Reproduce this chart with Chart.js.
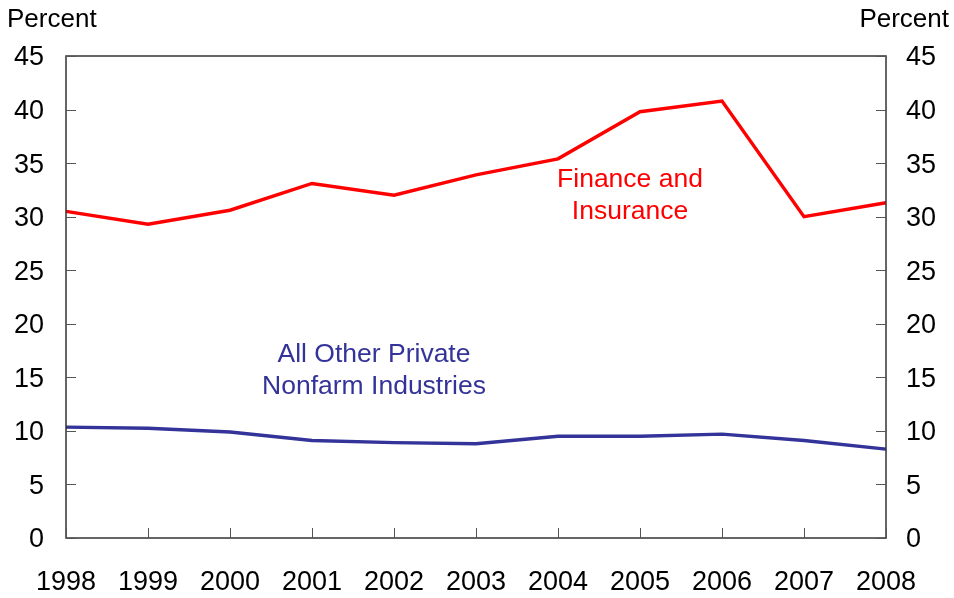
<!DOCTYPE html>
<html>
<head>
<meta charset="utf-8">
<script src="https://cdn.jsdelivr.net/npm/chart.js@4/dist/chart.umd.min.js"></script>
<style>
  html, body { margin: 0; padding: 0; background: #fff; }
  #wrap { width: 954px; height: 598px; position: relative; }
</style>
</head>
<body>
<div id="wrap"><canvas id="chart" width="954" height="598"></canvas></div>
<script>
// data
const years = ["1998", "1999", "2000", "2001", "2002", "2003", "2004", "2005", "2006", "2007", "2008"];
const financeValues = [30.5, 29.3, 30.6, 33.1, 32.0, 33.9, 35.4, 39.8, 40.8, 30.0, 31.3];
const otherValues = [10.35, 10.25, 9.9, 9.1, 8.9, 8.8, 9.5, 9.5, 9.7, 9.1, 8.3];
const percentTicks = [0, 5, 10, 15, 20, 25, 30, 35, 40, 45];

const FONT = "Arial, 'Liberation Sans', sans-serif";

// inward ticks, box, labels
const extras = {
  id: "extras",
  afterDraw(chart) {
    const ctx = chart.ctx;
    const a = chart.chartArea;
    const x = chart.scales.x;
    const y = chart.scales.y;
    ctx.save();
    ctx.strokeStyle = "#333";
    ctx.lineWidth = 1.5;
    ctx.strokeRect(a.left, a.top, a.right - a.left, a.bottom - a.top);

    ctx.lineWidth = 1;
    ctx.strokeStyle = "#555";
    ctx.beginPath();
    years.forEach((yr, i) => {
      const px = Math.round(x.getPixelForValue(i)) + 0.5;
      ctx.moveTo(px, a.bottom);
      ctx.lineTo(px, a.bottom - 10);
    });
    percentTicks.forEach(v => {
      const py = Math.round(y.getPixelForValue(v)) + 0.5;
      ctx.moveTo(a.left, py);
      ctx.lineTo(a.left + 10, py);
      ctx.moveTo(a.right, py);
      ctx.lineTo(a.right - 10, py);
    });
    ctx.stroke();

    ctx.font = "26px " + FONT;
    ctx.fillStyle = "#000";
    ctx.textBaseline = "middle";
    ctx.textAlign = "left";
    ctx.fillText("Percent", 7, 20);
    ctx.textAlign = "right";
    ctx.fillText("Percent", 949, 20);

    ctx.font = "26.5px " + FONT;
    ctx.textAlign = "center";
    ctx.fillStyle = "#ff0000";
    ctx.fillText("Finance and", 630, 180);
    ctx.fillText("Insurance", 630, 212);
    ctx.fillStyle = "#333399";
    ctx.fillText("All Other Private", 374, 355);
    ctx.fillText("Nonfarm Industries", 374, 387);
    ctx.restore();
  }
};

new Chart(document.getElementById("chart"), {
  type: "line",
  data: {
    labels: years,
    datasets: [
      {
        label: "Finance and Insurance",
        data: financeValues,
        borderColor: "#ff0000",
        borderWidth: 3.4,
        pointRadius: 0,
        tension: 0,
        yAxisID: "y"
      },
      {
        label: "All Other Private Nonfarm Industries",
        data: otherValues,
        borderColor: "#333399",
        borderWidth: 3.4,
        pointRadius: 0,
        tension: 0,
        yAxisID: "y"
      }
    ]
  },
  options: {
    responsive: false,
    animation: false,
    layout: { padding: { top: 56, left: 0, right: 0, bottom: 0 } },
    plugins: {
      legend: { display: false },
      tooltip: { enabled: false }
    },
    scales: {
      x: {
        offset: false,
        grid: { display: false, drawTicks: false },
        border: { display: false },
        ticks: { color: "#000", font: { size: 27, family: FONT }, padding: 28, maxRotation: 0, autoSkip: false },
        afterFit(s) { s.height = 60; }
      },
      y: {
        position: "left",
        min: 0, max: 45,
        afterBuildTicks(s) { s.ticks = percentTicks.map(v => ({ value: v })); },
        grid: { display: false, drawTicks: false },
        border: { display: false },
        ticks: { color: "#000", font: { size: 27, family: FONT }, padding: 22, labelOffset: 2 },
        afterFit(s) { s.width = 66; }
      },
      y2: {
        position: "right",
        min: 0, max: 45,
        afterBuildTicks(s) { s.ticks = percentTicks.map(v => ({ value: v })); },
        grid: { display: false, drawTicks: false },
        border: { display: false },
        ticks: { color: "#000", font: { size: 27, family: FONT }, padding: 20, labelOffset: 2 },
        afterFit(s) { s.width = 68; }
      }
    }
  },
  plugins: [extras]
});
</script>
</body>
</html>
